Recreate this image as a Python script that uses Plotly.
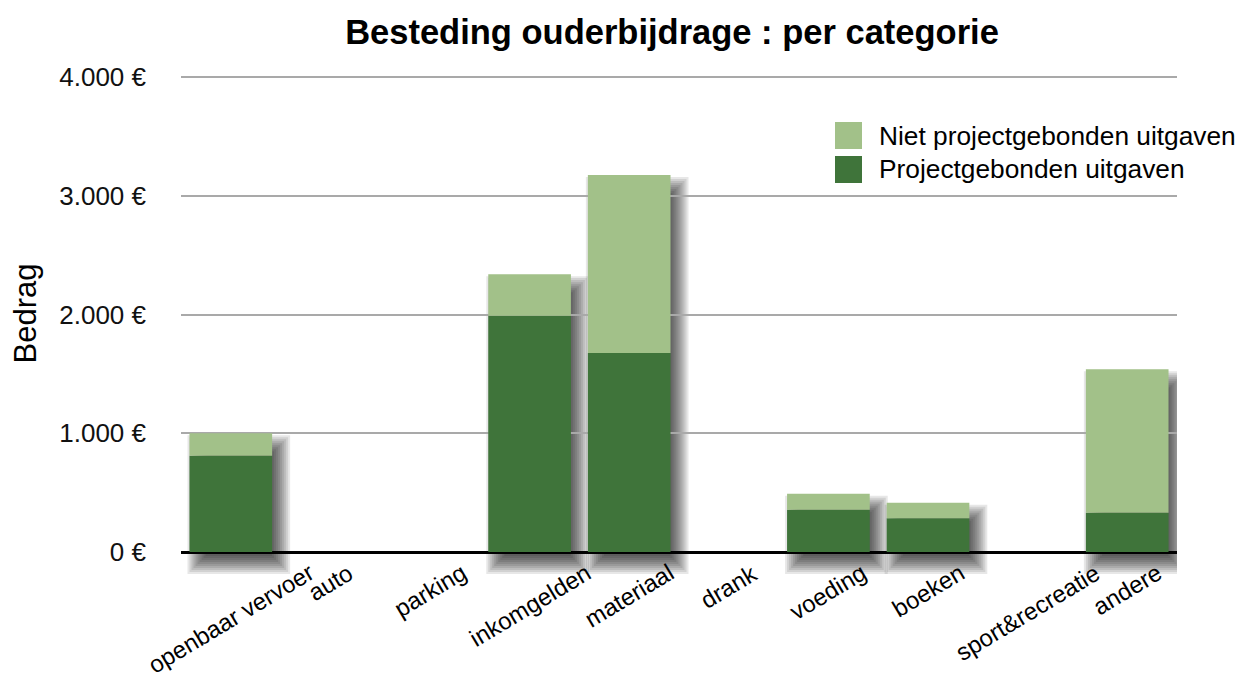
import plotly.graph_objects as go

# ---- data ----
categories = ["openbaar vervoer", "auto", "parking", "inkomgelden", "materiaal",
              "drank", "voeding", "boeken", "sport&recreatie", "andere"]
projectgebonden = [810, 0, 0, 1990, 1675, 0, 355, 285, 0, 330]
niet_projectgebonden = [190, 0, 0, 350, 1500, 0, 135, 130, 0, 1210]
y_tickvals = [0, 1000, 2000, 3000, 4000]
y_ticktext = ["0 €", "1.000 €", "2.000 €", "3.000 €", "4.000 €"]

title_text = "Besteding ouderbijdrage : per categorie"
y_title = "Bedrag"
legend_names = ["Niet projectgebonden uitgaven", "Projectgebonden uitgaven"]

# ---- layout geometry (page pixels; the page body has an 8px margin) ----
FONT = "Liberation Sans, Arial, Helvetica, sans-serif"
DARK = "#3f743a"
LIGHT = "#a2c189"
OFF = 8
W, H = 1250 - OFF, 679 - OFF
PLOT_L, PLOT_R = 181, 1177          # page px
BASE_Y, TOP_Y = 552, 77             # page px of 0 and 4000
PAD_TOP, PAD_BOT = 2, 30            # extra px above 4000 / below 0 (room for shadows)
ML = PLOT_L - OFF
MR = W - (PLOT_R - OFF)
MT = TOP_Y - PAD_TOP - OFF
MB = H - (BASE_Y + PAD_BOT - OFF)
PLOT_W = PLOT_R - PLOT_L
PLOT_H = (BASE_Y + PAD_BOT) - (TOP_Y - PAD_TOP)
Y_MAX = 4000
PX_Y = Y_MAX / (BASE_Y - TOP_Y)     # data units per pixel
PX_X = len(categories) / PLOT_W     # category units per pixel
BAR_W = 0.83

totals = [a + b for a, b in zip(projectgebonden, niet_projectgebonden)]

fig = go.Figure()

# soft drop shadows (layered translucent rectangles) on the lower subplot
DX, DY = 8, 12
for s in range(-10, 11, 2):
    ys = [t + 2 * s * PX_Y if t > 0 else None for t in totals]
    bases = [-(DY + s) * PX_Y if t > 0 else None for t in totals]
    fig.add_bar(
        x=categories, y=ys, base=bases, xaxis="x", yaxis="y",
        width=BAR_W + 2 * s * PX_X,
        offset=-BAR_W / 2 + (DX - s) * PX_X,
        marker=dict(color="rgba(0,0,0,0.095)", line=dict(width=0)),
        hoverinfo="skip", showlegend=False,
    )

fig.add_bar(
    x=categories, y=projectgebonden, base=[0] * len(categories),
    xaxis="x2", yaxis="y2", width=BAR_W, name=legend_names[1],
    marker=dict(color=DARK, line=dict(width=0)), showlegend=False,
)
fig.add_bar(
    x=categories, y=niet_projectgebonden, base=projectgebonden,
    xaxis="x2", yaxis="y2", width=BAR_W, name=legend_names[0],
    marker=dict(color=LIGHT, line=dict(width=0)), showlegend=False,
)

# rotated category labels, centred under each category
annotations = []
for c in categories:
    annotations.append(dict(
        x=c, y=-(556 - BASE_Y) * PX_Y, xref="x", yref="y", text=c, showarrow=False,
        textangle=-31, xanchor="center", yanchor="top",
        font=dict(family=FONT, size=24, color="#000"),
    ))

def paper_x(px):
    return (px - PLOT_L) / PLOT_W

def paper_y(py):
    return ((BASE_Y + PAD_BOT) - py) / PLOT_H

# legend (large swatches)
shapes = []
leg_colors = [LIGHT, DARK]
leg_tops = [122, 156]
for name, col, top in zip(legend_names, leg_colors, leg_tops):
    shapes.append(dict(
        type="rect", xref="paper", yref="paper",
        x0=paper_x(835), x1=paper_x(862),
        y0=paper_y(top + 27), y1=paper_y(top),
        fillcolor=col, line=dict(width=0),
    ))
    annotations.append(dict(
        x=paper_x(877), y=paper_y(top + 13.5), xref="paper", yref="paper",
        text=name, showarrow=False, xanchor="left", yanchor="middle",
        font=dict(family=FONT, size=26.3, color="#000"),
    ))

fig.update_layout(
    width=W, height=H,
    margin=dict(l=ML, r=MR, t=MT, b=MB, autoexpand=False),
    paper_bgcolor="white", plot_bgcolor="rgba(0,0,0,0)",
    barmode="overlay",
    title=dict(text="<b>" + title_text + "</b>", x=(672 - OFF) / W, xanchor="center",
               y=1 - (32 - OFF) / H, yanchor="middle", yref="container",
               font=dict(family=FONT, size=34.5, color="#000")),
    font=dict(family=FONT, color="#000"),
    shapes=shapes,
    annotations=annotations,
    showlegend=False,
    xaxis=dict(domain=[0, 1], anchor="y", range=[-0.5, len(categories) - 0.5],
               visible=False),
    yaxis=dict(domain=[0, 1], anchor="x",
               range=[-PAD_BOT * PX_Y, Y_MAX + PAD_TOP * PX_Y], visible=False),
    xaxis2=dict(domain=[0, 1], anchor="y2", matches="x", visible=False),
    yaxis2=dict(
        domain=[PAD_BOT / PLOT_H, 1], anchor="x2",
        range=[0, Y_MAX + PAD_TOP * PX_Y],
        tickvals=y_tickvals, ticktext=y_ticktext,
        tickfont=dict(family=FONT, size=26, color="#111"),
        showgrid=True, gridcolor="#a9a9a9", gridwidth=2,
        zeroline=True, zerolinecolor="#000", zerolinewidth=2.5,
        showline=False, ticks="", ticklabelstandoff=34,
        title=dict(text=y_title, font=dict(family=FONT, size=31, color="#000"),
                   standoff=14),
    ),
)

fig.write_html("out.html")
